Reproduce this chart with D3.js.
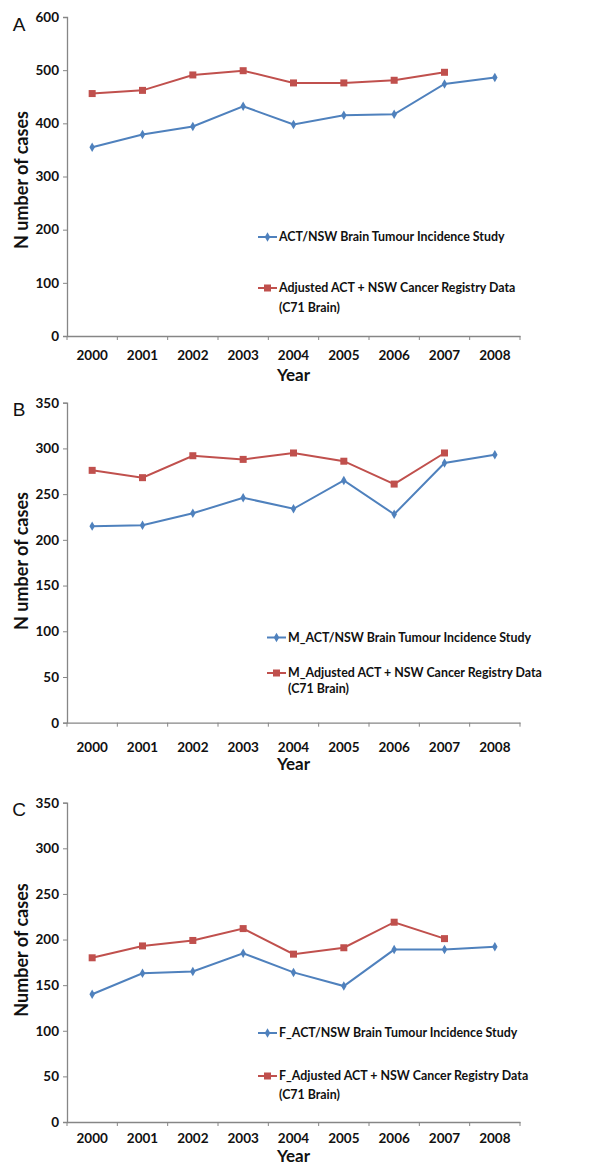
<!DOCTYPE html>
<html><head><meta charset="utf-8">
<script src="https://cdn.jsdelivr.net/npm/d3@7"></script>
<style>body{margin:0;background:#fff}</style>
</head><body>
<svg id="chart" width="607" height="1167"></svg>
<script>
const years = ["2000","2001","2002","2003","2004","2005","2006","2007","2008"];
const studyA = [355,379,394,432,398,415,417,474,486];
const registryA = [456,462,491,499,476,476,481,496,null];
const studyM = [215,216,229,246,234,265,228,284,293];
const registryM = [276,268,292,288,295,286,261,295,null];
const studyF = [140,163,165,185,164,149,189,189,192];
const registryF = [180,193,199,212,184,191,219,201,null];
const ticksA = [0,100,200,300,400,500,600];
const ticksBC = [0,50,100,150,200,250,300,350];

const panels = [
  {label:"A", study:studyA, reg:registryA, ticks:ticksA, max:600, y0:336, y1:17,
   ylab:"N umber of cases", ylabY:180,
   leg1:"ACT/NSW Brain Tumour Incidence Study", leg2:"Adjusted ACT + NSW Cancer Registry Data", lx:258, ly1:237, ly2:288, ly3:308,
   tickY:355, yearY:375},
  {label:"B", study:studyM, reg:registryM, ticks:ticksBC, max:350, y0:722.7, y1:402.7,
   ylab:"N umber of cases", ylabY:561,
   leg1:"M_ACT/NSW Brain Tumour Incidence Study", leg2:"M_Adjusted ACT + NSW Cancer Registry Data", lx:267, ly1:637.5, ly2:673, ly3:689,
   tickY:747, yearY:764},
  {label:"C", study:studyF, reg:registryF, ticks:ticksBC, max:350, y0:1122, y1:802.7,
   ylab:"Number of cases", ylabY:950,
   leg1:"F_ACT/NSW Brain Tumour Incidence Study", leg2:"F_Adjusted ACT + NSW Cancer Registry Data", lx:258, ly1:1033, ly2:1076, ly3:1095,
   tickY:1138, yearY:1156}
];

const blue = "#4F81BD", red = "#C0504D", axisCol = "#868686";
const font = "Lato, 'Open Sans', sans-serif";
const svg = d3.select("#chart");
const xLeft = 67, xRight = 520;

panels.forEach(p => {
  const g = svg.append("g");
  const x = d3.scaleBand().domain(years).range([xLeft, xRight]);
  const y = d3.scaleLinear().domain([0, p.max]).range([p.y0, p.y1]);

  // y axis
  const ya = g.append("g").attr("transform", `translate(${xLeft},0)`)
    .call(d3.axisLeft(y).tickValues(p.ticks).tickSize(4).tickPadding(4));
  ya.select(".domain").attr("stroke", axisCol).attr("stroke-width", 1.3);
  ya.selectAll(".tick line").attr("stroke", axisCol);
  ya.selectAll(".tick text").attr("font-family", font).attr("font-weight", 700)
    .attr("font-size", 13.5).attr("fill", "#111");

  // x axis
  const xa = g.append("g").attr("transform", `translate(0,${p.y0})`)
    .call(d3.axisBottom(x).tickSize(0).tickPadding(0));
  xa.select(".domain").attr("stroke", axisCol).attr("stroke-width", 1.3);
  xa.selectAll(".tick text").attr("font-family", font).attr("font-weight", 700)
    .attr("font-size", 13.5).attr("fill", "#111")
    .attr("y", p.tickY - p.y0).attr("dy", "0.35em");
  // boundary ticks
  const bounds = years.map(d => x(d)).concat([xRight]);
  g.selectAll(".bt").data(bounds).join("line")
    .attr("x1", d => d).attr("x2", d => d)
    .attr("y1", p.y0).attr("y2", p.y0 + 4)
    .attr("stroke", axisCol).attr("stroke-width", 1);

  // axis titles
  g.append("text").attr("x", (xLeft + xRight) / 2).attr("y", p.yearY).attr("dy", "0.35em")
    .attr("text-anchor", "middle").attr("font-family", font).attr("font-weight", 700)
    .attr("font-size", 17).attr("fill", "#111").text("Year");
  g.append("text").attr("transform", `translate(22,${p.ylabY}) rotate(-90)`).attr("dy", "0.35em")
    .attr("text-anchor", "middle").attr("font-family", font).attr("font-weight", 700)
    .attr("font-size", 18).attr("fill", "#111").text(p.ylab);
  g.append("text").attr("x", 19).attr("y", (p.y1 + 7)).attr("dy", "0.35em")
    .attr("text-anchor", "middle").attr("font-family", "'Liberation Sans', Arial, sans-serif")
    .attr("font-size", 19).attr("fill", "#111").text(p.label);

  const cx = i => x(years[i]) + x.bandwidth() / 2;
  const line = d3.line().defined(d => d.v != null).x(d => cx(d.i)).y(d => y(d.v));

  // registry series (red)
  const regData = p.reg.map((v, i) => ({v, i}));
  g.append("path").datum(regData).attr("d", line).attr("fill", "none")
    .attr("stroke", red).attr("stroke-width", 2);
  g.selectAll(".rm").data(regData.filter(d => d.v != null)).join("rect")
    .attr("x", d => cx(d.i) - 3.5).attr("y", d => y(d.v) - 3.5)
    .attr("width", 7).attr("height", 7).attr("fill", red);

  // study series (blue)
  const stData = p.study.map((v, i) => ({v, i}));
  g.append("path").datum(stData).attr("d", line).attr("fill", "none")
    .attr("stroke", blue).attr("stroke-width", 2);
  const diamond = d3.symbol().type(d3.symbolDiamond).size(26);
  g.selectAll(".bm").data(stData).join("path")
    .attr("transform", d => `translate(${cx(d.i)},${y(d.v)})`)
    .attr("d", diamond).attr("fill", blue);

  // legend
  const lg = g.append("g");
  lg.append("line").attr("x1", p.lx).attr("x2", p.lx + 19).attr("y1", p.ly1).attr("y2", p.ly1)
    .attr("stroke", blue).attr("stroke-width", 2);
  lg.append("path").attr("transform", `translate(${p.lx + 9.5},${p.ly1})`).attr("d", diamond).attr("fill", blue);
  lg.append("text").attr("x", p.lx + 21).attr("y", p.ly1).attr("dy", "0.35em")
    .attr("font-family", font).attr("font-weight", 700).attr("font-size", 12.4).attr("fill", "#111").text(p.leg1);
  lg.append("line").attr("x1", p.lx).attr("x2", p.lx + 19).attr("y1", p.ly2).attr("y2", p.ly2)
    .attr("stroke", red).attr("stroke-width", 2);
  lg.append("rect").attr("x", p.lx + 6).attr("y", p.ly2 - 3.5).attr("width", 7).attr("height", 7).attr("fill", red);
  lg.append("text").attr("x", p.lx + 21).attr("y", p.ly2).attr("dy", "0.35em")
    .attr("font-family", font).attr("font-weight", 700).attr("font-size", 12.4).attr("fill", "#111").text(p.leg2);
  lg.append("text").attr("x", p.lx + 21).attr("y", p.ly3).attr("dy", "0.35em")
    .attr("font-family", font).attr("font-weight", 700).attr("font-size", 12.4).attr("fill", "#111").text("(C71 Brain)");
});
</script>
</body></html>
